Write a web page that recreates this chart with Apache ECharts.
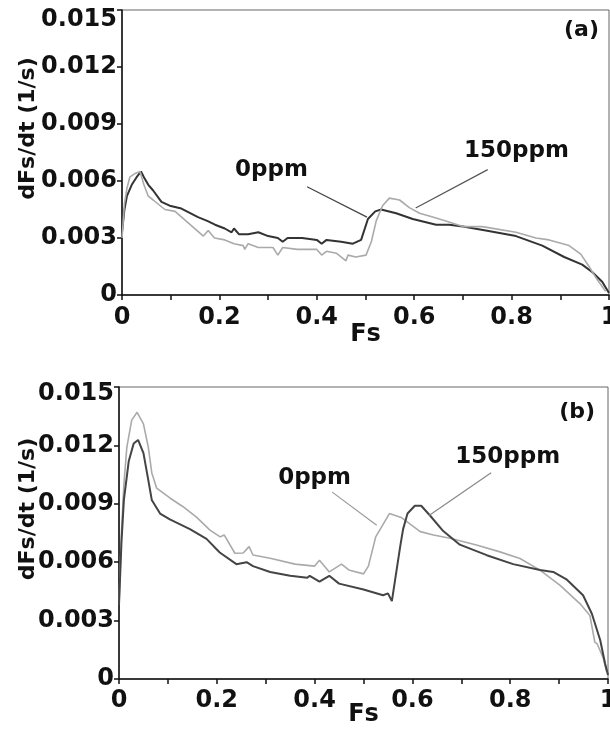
<!DOCTYPE html>
<html>
<head>
<meta charset="utf-8">
<script src="https://cdn.jsdelivr.net/npm/echarts@6/dist/echarts.min.js"></script>
<style>
  html, body { margin: 0; padding: 0; background: #fff; }
  #chart { width: 610px; height: 729px; }
</style>
</head>
<body>
<div id="chart"></div>
<script>
// panel (a): [Fs, dFs/dt]
const topZeroPpm = [
  [0, 0.0033], [0.005, 0.0045], [0.01, 0.0052], [0.02, 0.0058], [0.03, 0.0062],
  [0.039, 0.0065], [0.045, 0.0062], [0.054, 0.0058], [0.064, 0.0055], [0.081, 0.0049],
  [0.098, 0.0047], [0.122, 0.00455], [0.156, 0.0041], [0.175, 0.0039], [0.191, 0.0037],
  [0.211, 0.0035], [0.225, 0.0033], [0.23, 0.0035], [0.24, 0.0032], [0.259, 0.0032],
  [0.28, 0.0033], [0.3, 0.0031], [0.32, 0.003], [0.33, 0.0028], [0.34, 0.003],
  [0.37, 0.003], [0.4, 0.0029], [0.41, 0.0027], [0.42, 0.0029], [0.45, 0.0028],
  [0.474, 0.0027], [0.491, 0.0029], [0.505, 0.004], [0.52, 0.0044], [0.532, 0.0045],
  [0.563, 0.0043], [0.597, 0.004], [0.645, 0.0037], [0.672, 0.0037], [0.7, 0.0036],
  [0.747, 0.0034], [0.809, 0.0031], [0.863, 0.0026], [0.908, 0.002], [0.945, 0.0016],
  [0.966, 0.0012], [0.986, 0.0007], [1, 0.0001]
];
const top150Ppm = [
  [0, 0.003], [0.005, 0.0048], [0.01, 0.0056], [0.016, 0.0062], [0.027, 0.0064],
  [0.037, 0.0065], [0.045, 0.0058], [0.054, 0.0052], [0.064, 0.005], [0.088, 0.0045],
  [0.109, 0.0044], [0.136, 0.0038], [0.167, 0.0031], [0.177, 0.0034], [0.19, 0.003],
  [0.211, 0.0029], [0.23, 0.0027], [0.249, 0.0026], [0.252, 0.0024], [0.259, 0.0027],
  [0.28, 0.0025], [0.31, 0.0025], [0.32, 0.0021], [0.33, 0.0025], [0.36, 0.0024],
  [0.4, 0.0024], [0.41, 0.0021], [0.42, 0.0023], [0.44, 0.0022], [0.46, 0.0018],
  [0.464, 0.0021], [0.48, 0.002], [0.501, 0.0021], [0.512, 0.0028], [0.522, 0.0039],
  [0.535, 0.0047], [0.549, 0.0051], [0.57, 0.005], [0.59, 0.0046], [0.611, 0.0043],
  [0.638, 0.0041], [0.665, 0.0039], [0.7, 0.0036], [0.74, 0.0036], [0.809, 0.0033],
  [0.85, 0.003], [0.877, 0.0029], [0.918, 0.0026], [0.942, 0.00215], [0.959, 0.0015],
  [0.976, 0.0008], [0.993, 0.0002]
];

// panel (b)
const bottomZeroPpm = [
  [0, 0.0038], [0.005, 0.0075], [0.01, 0.01], [0.016, 0.0119], [0.026, 0.0133],
  [0.037, 0.0137], [0.05, 0.0131], [0.06, 0.0119], [0.067, 0.0106], [0.077, 0.0098],
  [0.104, 0.0093], [0.131, 0.00885], [0.159, 0.0083], [0.186, 0.00765], [0.207, 0.0073],
  [0.215, 0.0074], [0.237, 0.00646], [0.254, 0.00647], [0.266, 0.0068], [0.274, 0.00637],
  [0.309, 0.0062], [0.36, 0.0059], [0.4, 0.0058], [0.41, 0.0061], [0.43, 0.0055],
  [0.455, 0.0059], [0.47, 0.0056], [0.5, 0.0054], [0.51, 0.0058], [0.525, 0.0073],
  [0.553, 0.0085], [0.577, 0.0083], [0.616, 0.00757], [0.643, 0.0074], [0.677, 0.00723],
  [0.731, 0.00688], [0.779, 0.00653], [0.82, 0.00619], [0.861, 0.00559], [0.902, 0.00481],
  [0.943, 0.00386], [0.963, 0.00326], [0.973, 0.0019], [0.978, 0.0018], [0.99, 0.0011],
  [0.997, 0.0004]
];
const bottom150Ppm = [
  [0, 0.0038], [0.005, 0.007], [0.01, 0.0092], [0.02, 0.0112], [0.03, 0.0121],
  [0.039, 0.01228], [0.05, 0.0116], [0.06, 0.0102], [0.067, 0.0092], [0.084, 0.0085],
  [0.104, 0.0082], [0.145, 0.0077], [0.179, 0.0072], [0.206, 0.0065], [0.24, 0.0059],
  [0.261, 0.006], [0.274, 0.0058], [0.309, 0.0055], [0.35, 0.0053], [0.385, 0.0052],
  [0.39, 0.0053], [0.41, 0.005], [0.43, 0.0053], [0.45, 0.0049], [0.5, 0.0046],
  [0.54, 0.0043], [0.55, 0.0044], [0.558, 0.004], [0.575, 0.0068], [0.581, 0.0077],
  [0.59, 0.0085], [0.605, 0.0089], [0.618, 0.0089], [0.636, 0.0084], [0.663, 0.0076],
  [0.697, 0.0069], [0.752, 0.00636], [0.806, 0.0059], [0.861, 0.0056], [0.888, 0.0055],
  [0.916, 0.0051], [0.949, 0.0043], [0.967, 0.00335], [0.984, 0.002], [0.994, 0.0008],
  [1, 0.0002]
];

// annotation text anchors and leader lines, in data units [Fs, dFs/dt]
const topZeroLabel = [0.307, 0.0066];
const topZeroLeader = [[0.38, 0.0057], [0.503, 0.0041]];
const top150Label = [0.81, 0.0076];
const top150Leader = [[0.751, 0.0066], [0.603, 0.00458]];
const bottomZeroLabel = [0.40, 0.0103];
const bottomZeroLeader = [[0.436, 0.0096], [0.527, 0.0079]];
const bottom150Label = [0.795, 0.0114];
const bottom150Leader = [[0.761, 0.0106], [0.634, 0.0084]];

const font = "'DejaVu Sans', sans-serif";
const ink = "#111";

function xAxisFor(gridIndex, labelMargin, gap) {
  return {
    gridIndex: gridIndex,
    type: "value",
    min: 0,
    max: 1,
    interval: 0.1,
    name: "Fs",
    nameLocation: "middle",
    nameGap: gap,
    nameMoveOverlap: false,
    nameTextStyle: { fontFamily: font, fontWeight: "bold", fontSize: 24, color: ink },
    axisLine: { lineStyle: { color: ink, width: 1.5 } },
    axisTick: { show: true, inside: false, length: 5, lineStyle: { color: ink, width: 1.5 } },
    axisLabel: {
      margin: labelMargin,
      fontFamily: font,
      fontWeight: "bold",
      fontSize: 24,
      color: ink,
      formatter: function (v) {
        const k = Math.round(v * 10);
        if (k % 2 !== 0) return "";
        return String(+(k / 10).toFixed(1));
      },
    },
    splitLine: { show: false },
  };
}

function yAxisFor(gridIndex, gap, topDrop) {
  return {
    gridIndex: gridIndex,
    type: "value",
    min: 0,
    max: 0.015,
    interval: 0.003,
    name: "dFs/dt (1/s)",
    nameLocation: "middle",
    nameGap: gap,
    nameMoveOverlap: false,
    nameTextStyle: {
      fontFamily: font, fontWeight: "bold", fontSize: 22, color: ink,
      padding: [0, 0, 0, 48],
    },
    axisLine: { show: true, lineStyle: { color: ink, width: 1.5 } },
    axisTick: { show: true, inside: false, length: 5, lineStyle: { color: ink, width: 1.5 } },
    axisLabel: {
      margin: 5,
      fontFamily: font,
      fontWeight: "bold",
      fontSize: 24,
      color: ink,
      formatter: function (v) {
        if (v === 0) return "0";
        if (Math.abs(v - 0.015) < 1e-9) return "{top|0.015}";
        return v.toFixed(3);
      },
      rich: {
        top: {
          fontFamily: font, fontWeight: "bold", fontSize: 24, color: ink,
          padding: [topDrop, 0, 0, 0],
        },
      },
    },
    splitLine: { show: false },
  };
}

function annotation(text, at, leader, leaderColor) {
  return {
    markLine: {
      silent: true,
      symbol: ["none", "none"],
      label: { show: false },
      lineStyle: { color: leaderColor, width: 1.2, type: "solid" },
      data: [[{ coord: leader[0] }, { coord: leader[1] }]],
    },
    markPoint: {
      silent: true,
      symbol: "circle",
      symbolSize: 1,
      itemStyle: { color: "rgba(0,0,0,0)" },
      label: {
        show: true,
        position: "inside",
        formatter: text,
        fontFamily: font,
        fontWeight: "bold",
        fontSize: 23,
        color: ink,
      },
      data: [{ coord: at }],
    },
  };
}

function lineSeries(name, data, axisIndex, color, width, note) {
  return Object.assign({
    name: name,
    type: "line",
    xAxisIndex: axisIndex,
    yAxisIndex: axisIndex,
    data: data,
    showSymbol: false,
    lineStyle: { color: color, width: width },
    itemStyle: { color: color },
  }, note);
}

const chartDom = document.getElementById("chart");
const myChart = echarts.init(chartDom);

const option = {
  animation: false,
  backgroundColor: "#fff",
  title: [
    { text: "(a)", right: 6, top: 14, textStyle: { fontFamily: font, fontWeight: "bold", fontSize: 22, color: ink } },
    { text: "(b)", right: 10, top: 396, textStyle: { fontFamily: font, fontWeight: "bold", fontSize: 22, color: ink } },
  ],
  grid: [
    { left: 122, right: 1, top: 10, bottom: 434, show: true, borderColor: "#666", borderWidth: 1,
      containLabel: false, outerBoundsMode: "none" },
    { left: 119, right: 2, top: 387, bottom: 50, show: true, borderColor: "#666", borderWidth: 1,
      containLabel: false, outerBoundsMode: "none" },
  ],
  xAxis: [xAxisFor(0, 11, 28), xAxisFor(1, 10, 24)],
  yAxis: [yAxisFor(0, 83, 20), yAxisFor(1, 80, 14)],
  series: [
    lineSeries("0ppm", topZeroPpm, 0, "#333", 2, annotation("0ppm", topZeroLabel, topZeroLeader, "#444")),
    lineSeries("150ppm", top150Ppm, 0, "#aaa", 1.6, annotation("150ppm", top150Label, top150Leader, "#555")),
    lineSeries("0ppm", bottomZeroPpm, 1, "#aaa", 1.6, annotation("0ppm", bottomZeroLabel, bottomZeroLeader, "#999")),
    lineSeries("150ppm", bottom150Ppm, 1, "#444", 2, annotation("150ppm", bottom150Label, bottom150Leader, "#888")),
  ],
};

myChart.setOption(option);
</script>
</body>
</html>
